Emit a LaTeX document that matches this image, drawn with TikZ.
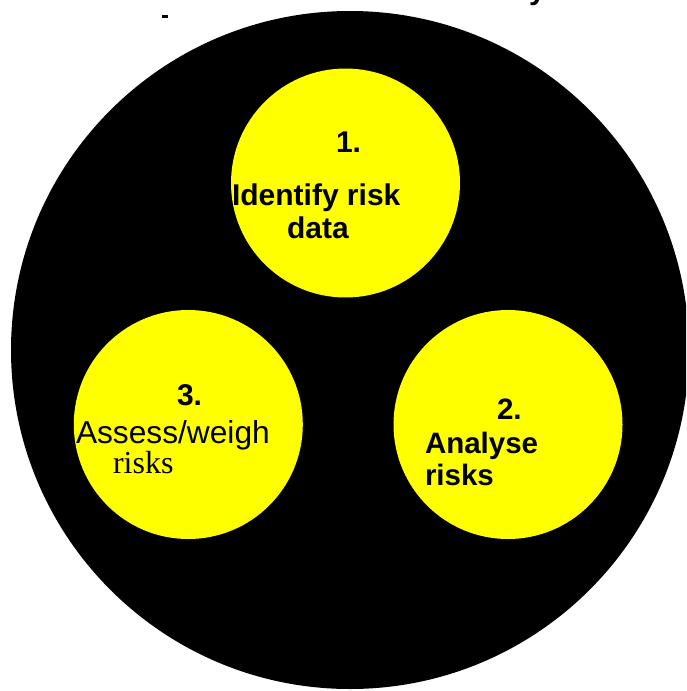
\documentclass[tikz,border=0pt]{standalone}
\usepackage{fontspec}
\setmainfont{Liberation Sans}
\newfontfamily\seriffont{Liberation Serif}
\definecolor{ylw}{RGB}{255,255,0}
\tikzset{
  bigdisk/.style={circle,fill=black,draw=none,minimum size=678pt,inner sep=0pt},
  ydisk/.style={circle,fill=ylw,draw=none,minimum size=229pt,inner sep=0pt},
  lbl/.style={inner sep=0pt,outer sep=0pt,font=\fontsize{30}{35}\selectfont\bfseries,anchor=base west},
  lbltwo/.style={inner sep=0pt,outer sep=0pt,font=\fontsize{29.5}{35}\selectfont\bfseries,anchor=base west},
  lblreg/.style={inner sep=0pt,outer sep=0pt,font=\fontsize{31.7}{36}\selectfont,anchor=base west},
  lblser/.style={inner sep=0pt,outer sep=0pt,font=\fontsize{32}{36}\selectfont\seriffont,anchor=base west}
}
\begin{document}
\begin{tikzpicture}[x=1pt,y=-1pt]
\useasboundingbox (0,0) rectangle (686,691);
\clip (0,0) rectangle (686,691);
\fill[white] (0,0) rectangle (686,691);
% title fragments
\node[lbl] (ttly) at (529,-0.5) {y};
\fill (162,15) rectangle (168,17.5);
% big disk
\node[bigdisk] (big) at (350,350) {};
% yellow disks
\node[ydisk] (c1) at (345.5,183) {};
\node[ydisk] (c3) at (188.3,424.5) {};
\node[ydisk] (c2) at (508,424.5) {};
% texts circle 1
\node[lbl] (n1) at (336,152.5) {1.};
\node[lbl] (t1a) at (232,205) {Identify risk};
\node[lbl] (t1b) at (287,238) {data};
% texts circle 3
\node[lbl] (n3) at (177,405) {3.};
\node[lblreg] (t3a) at (76,443) {Assess/weigh};
\node[lblser] (t3b) at (113,473) {risks};
% texts circle 2
\node[lbltwo] (n2) at (497,419) {2.};
\node[lbltwo] (t2a) at (425,453) {Analyse};
\node[lbltwo] (t2b) at (425,485) {risks};
\end{tikzpicture}
\end{document}
